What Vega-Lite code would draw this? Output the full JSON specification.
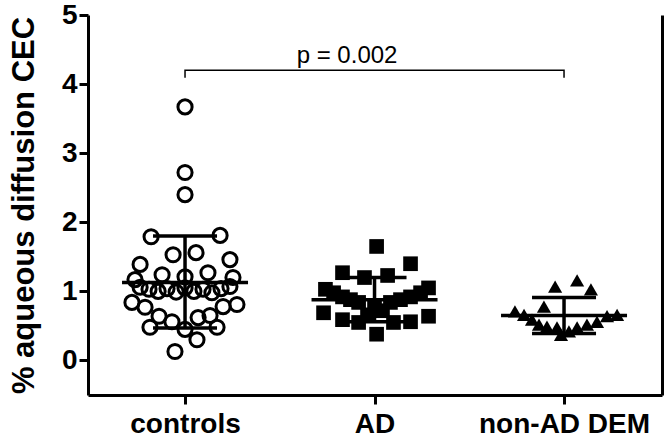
{
  "$schema": "https://vega.github.io/schema/vega-lite/v6.json",
  "width": 574,
  "height": 380,
  "autosize": "none",
  "padding": {"left": 88, "top": 15, "right": 5, "bottom": 44},
  "background": "white",
  "config": {"view": {"stroke": null}, "font": "Liberation Sans"},
  "datasets": {
    "pts": [
      {"group": "controls", "pos": 1.000, "val": 3.67},
      {"group": "controls", "pos": 1.000, "val": 2.72},
      {"group": "controls", "pos": 1.000, "val": 2.40},
      {"group": "controls", "pos": 0.821, "val": 1.79},
      {"group": "controls", "pos": 1.185, "val": 1.81},
      {"group": "controls", "pos": 0.937, "val": 1.53},
      {"group": "controls", "pos": 1.058, "val": 1.56},
      {"group": "controls", "pos": 0.763, "val": 1.39},
      {"group": "controls", "pos": 1.237, "val": 1.46},
      {"group": "controls", "pos": 0.736, "val": 1.17},
      {"group": "controls", "pos": 0.879, "val": 1.24},
      {"group": "controls", "pos": 1.000, "val": 1.21},
      {"group": "controls", "pos": 1.121, "val": 1.27},
      {"group": "controls", "pos": 1.253, "val": 1.20},
      {"group": "controls", "pos": 0.763, "val": 1.06},
      {"group": "controls", "pos": 0.810, "val": 1.03},
      {"group": "controls", "pos": 0.858, "val": 1.00},
      {"group": "controls", "pos": 0.905, "val": 1.04},
      {"group": "controls", "pos": 0.953, "val": 0.99},
      {"group": "controls", "pos": 1.000, "val": 1.05},
      {"group": "controls", "pos": 1.047, "val": 1.00},
      {"group": "controls", "pos": 1.095, "val": 1.03},
      {"group": "controls", "pos": 1.142, "val": 0.98},
      {"group": "controls", "pos": 1.190, "val": 1.04},
      {"group": "controls", "pos": 1.237, "val": 1.07},
      {"group": "controls", "pos": 0.720, "val": 0.84},
      {"group": "controls", "pos": 0.789, "val": 0.77},
      {"group": "controls", "pos": 1.274, "val": 0.81},
      {"group": "controls", "pos": 1.201, "val": 0.78},
      {"group": "controls", "pos": 0.863, "val": 0.64},
      {"group": "controls", "pos": 1.132, "val": 0.65},
      {"group": "controls", "pos": 0.931, "val": 0.56},
      {"group": "controls", "pos": 1.069, "val": 0.62},
      {"group": "controls", "pos": 0.815, "val": 0.48},
      {"group": "controls", "pos": 1.169, "val": 0.48},
      {"group": "controls", "pos": 1.000, "val": 0.45},
      {"group": "controls", "pos": 1.063, "val": 0.30},
      {"group": "controls", "pos": 0.947, "val": 0.13},
      {"group": "AD", "pos": 2.011, "val": 1.65},
      {"group": "AD", "pos": 2.190, "val": 1.40},
      {"group": "AD", "pos": 1.831, "val": 1.27},
      {"group": "AD", "pos": 1.947, "val": 1.20},
      {"group": "AD", "pos": 2.069, "val": 1.23},
      {"group": "AD", "pos": 1.741, "val": 1.03},
      {"group": "AD", "pos": 2.285, "val": 1.05},
      {"group": "AD", "pos": 1.784, "val": 0.98},
      {"group": "AD", "pos": 1.831, "val": 0.92},
      {"group": "AD", "pos": 1.873, "val": 0.88},
      {"group": "AD", "pos": 1.916, "val": 0.84},
      {"group": "AD", "pos": 2.243, "val": 0.98},
      {"group": "AD", "pos": 2.190, "val": 0.92},
      {"group": "AD", "pos": 2.137, "val": 0.88},
      {"group": "AD", "pos": 2.084, "val": 0.84},
      {"group": "AD", "pos": 2.000, "val": 0.78},
      {"group": "AD", "pos": 1.731, "val": 0.69},
      {"group": "AD", "pos": 1.831, "val": 0.59},
      {"group": "AD", "pos": 1.916, "val": 0.55},
      {"group": "AD", "pos": 2.011, "val": 0.38},
      {"group": "AD", "pos": 2.100, "val": 0.55},
      {"group": "AD", "pos": 2.190, "val": 0.56},
      {"group": "AD", "pos": 2.285, "val": 0.64},
      {"group": "AD", "pos": 1.963, "val": 0.66},
      {"group": "AD", "pos": 2.042, "val": 0.72},
      {"group": "non-AD DEM", "pos": 2.953, "val": 1.07},
      {"group": "non-AD DEM", "pos": 3.069, "val": 1.16},
      {"group": "non-AD DEM", "pos": 3.142, "val": 1.03},
      {"group": "non-AD DEM", "pos": 2.894, "val": 0.78},
      {"group": "non-AD DEM", "pos": 2.741, "val": 0.71},
      {"group": "non-AD DEM", "pos": 2.789, "val": 0.66},
      {"group": "non-AD DEM", "pos": 2.831, "val": 0.59},
      {"group": "non-AD DEM", "pos": 3.227, "val": 0.64},
      {"group": "non-AD DEM", "pos": 3.280, "val": 0.66},
      {"group": "non-AD DEM", "pos": 3.174, "val": 0.56},
      {"group": "non-AD DEM", "pos": 2.868, "val": 0.52},
      {"group": "non-AD DEM", "pos": 2.910, "val": 0.49},
      {"group": "non-AD DEM", "pos": 2.963, "val": 0.48},
      {"group": "non-AD DEM", "pos": 3.069, "val": 0.48},
      {"group": "non-AD DEM", "pos": 3.121, "val": 0.52},
      {"group": "non-AD DEM", "pos": 3.026, "val": 0.42},
      {"group": "non-AD DEM", "pos": 2.984, "val": 0.37}
    ],
    "summ": [
      {"group": "controls", "pos": 1, "mean": 1.13, "lo": 0.47, "hi": 1.80},
      {"group": "AD", "pos": 2, "mean": 0.88, "lo": 0.56, "hi": 1.20},
      {"group": "non-AD DEM", "pos": 3, "mean": 0.65, "lo": 0.39, "hi": 0.91}
    ],
    "bracket": [
      {"pos": 1, "val": 4.09, "o": 1},
      {"pos": 1, "val": 4.2, "o": 2},
      {"pos": 3, "val": 4.2, "o": 3},
      {"pos": 3, "val": 4.09, "o": 4}
    ],
    "note": [
      {"pos": 1.855, "val": 4.31, "label": "p = 0.002"}
    ]
  },
  "layer": [
    {
      "data": {"name": "pts"},
      "transform": [{"filter": "datum.group == 'controls'"}],
      "mark": {"type": "point", "shape": "circle", "filled": false, "stroke": "black", "strokeWidth": 3, "size": 200, "opacity": 1},
      "encoding": {
        "x": {"field": "pos", "type": "quantitative", "title": null,
          "scale": {"domain": [0.488, 3.517], "nice": false, "zero": false},
          "axis": {"values": [1, 2, 3], "labelExpr": "datum.value == 1 ? 'controls' : datum.value == 2 ? 'AD' : 'non-AD DEM'", "grid": false, "domainColor": "black", "domainWidth": 3, "tickColor": "black", "tickWidth": 3, "tickSize": 9, "labelFont": "Liberation Sans", "labelFontWeight": "bold", "labelFontSize": 28, "labelColor": "black", "labelPadding": 6, "labelFlush": false, "title": null}},
        "y": {"field": "val", "type": "quantitative",
          "scale": {"domain": [-0.5, 5], "nice": false, "zero": false},
          "axis": {"orient": "left", "values": [0, 1, 2, 3, 4, 5], "grid": false, "domainColor": "black", "domainWidth": 3, "tickColor": "black", "tickWidth": 3, "tickSize": 9, "labelFont": "Liberation Sans", "labelFontWeight": "bold", "labelFontSize": 28, "labelColor": "black", "labelPadding": 2, "labelFlush": false, "title": "% aqueous diffusion CEC", "titleFont": "Liberation Sans", "titleFontSize": 31, "titleFontWeight": "bold", "titleColor": "black", "titlePadding": 21}}
      }
    },
    {
      "data": {"name": "pts"},
      "transform": [{"filter": "datum.group == 'AD'"}],
      "mark": {"type": "square", "filled": true, "color": "black", "size": 215, "opacity": 1},
      "encoding": {
        "x": {"field": "pos", "type": "quantitative", "title": null},
        "y": {"field": "val", "type": "quantitative", "axis": null}
      }
    },
    {
      "data": {"name": "pts"},
      "transform": [{"filter": "datum.group == 'non-AD DEM'"}],
      "mark": {"type": "point", "shape": "triangle-up", "filled": true, "color": "black", "size": 200, "opacity": 1},
      "encoding": {
        "x": {"field": "pos", "type": "quantitative", "title": null},
        "y": {"field": "val", "type": "quantitative", "axis": null}
      }
    },
    {
      "data": {"name": "summ"},
      "mark": {"type": "rule", "color": "black", "strokeWidth": 3.5},
      "encoding": {
        "x": {"field": "pos", "type": "quantitative", "title": null},
        "y": {"field": "lo", "type": "quantitative", "axis": null},
        "y2": {"field": "hi"}
      }
    },
    {
      "data": {"name": "summ"},
      "mark": {"type": "tick", "orient": "horizontal", "size": 126, "thickness": 3.5, "color": "black", "opacity": 1},
      "encoding": {
        "x": {"field": "pos", "type": "quantitative", "title": null},
        "y": {"field": "mean", "type": "quantitative", "axis": null}
      }
    },
    {
      "data": {"name": "summ"},
      "mark": {"type": "tick", "orient": "horizontal", "size": 64, "thickness": 3.5, "color": "black", "opacity": 1},
      "encoding": {
        "x": {"field": "pos", "type": "quantitative", "title": null},
        "y": {"field": "hi", "type": "quantitative", "axis": null}
      }
    },
    {
      "data": {"name": "summ"},
      "mark": {"type": "tick", "orient": "horizontal", "size": 64, "thickness": 3.5, "color": "black", "opacity": 1},
      "encoding": {
        "x": {"field": "pos", "type": "quantitative", "title": null},
        "y": {"field": "lo", "type": "quantitative", "axis": null}
      }
    },
    {
      "data": {"name": "bracket"},
      "mark": {"type": "line", "color": "black", "strokeWidth": 1.5},
      "encoding": {
        "x": {"field": "pos", "type": "quantitative", "title": null},
        "y": {"field": "val", "type": "quantitative",
          "axis": {"orient": "right", "labels": false, "ticks": false, "grid": false, "domainColor": "black", "domainWidth": 3, "title": null}},
        "order": {"field": "o"}
      }
    },
    {
      "data": {"name": "note"},
      "mark": {"type": "text", "font": "Liberation Sans", "fontSize": 24, "color": "black", "align": "center", "baseline": "alphabetic"},
      "encoding": {
        "x": {"field": "pos", "type": "quantitative", "title": null},
        "y": {"field": "val", "type": "quantitative", "axis": null},
        "text": {"field": "label"}
      }
    }
  ],
  "resolve": {"axis": {"y": "independent"}}
}
